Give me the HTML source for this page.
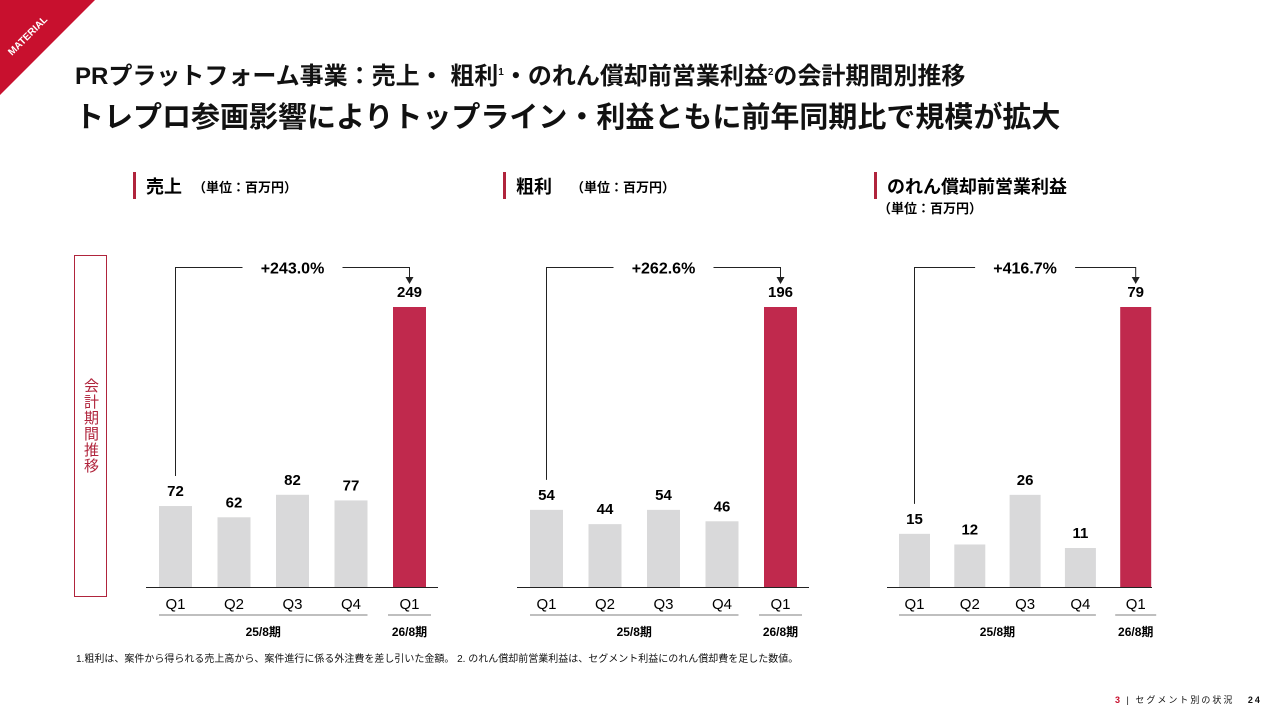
<!DOCTYPE html>
<html><head><meta charset="utf-8">
<style>
body{margin:0;width:1280px;height:720px;background:#fff;overflow:hidden;position:relative;font-family:"Liberation Sans","Noto Sans CJK JP",sans-serif;color:#111}
.abs{position:absolute;white-space:nowrap}
</style></head><body>
<svg class="abs" style="left:0;top:0" width="100" height="100">
<polygon points="0,0 95,0 0,95" fill="#c8102e"/>
<text x="12" y="56" transform="rotate(-45 12 56)" font-size="10" font-weight="bold" fill="#fff" font-family="Liberation Sans,sans-serif">MATERIAL</text>
</svg>
<div class="abs" style="left:75px;top:56px;font-size:24px;font-weight:bold">PRプラットフォーム事業：売上・ 粗利<sup style="font-size:10px">1</sup>・のれん償却前営業利益<sup style="font-size:10px">2</sup>の会計期間別推移</div>
<div class="abs" style="left:75px;top:94px;font-size:29px;font-weight:bold;letter-spacing:0">トレプロ参画影響によりトップライン・利益ともに前年同期比で規模が拡大</div>

<div class="abs" style="left:74px;top:255px;width:31px;height:340px;border:1px solid #b0243c;color:#b0243c;font-size:15px;writing-mode:vertical-rl;display:flex;align-items:center;justify-content:center;letter-spacing:1px">会計期間推移</div>

<svg id="chart" class="abs" style="left:0;top:0" width="1280" height="720"></svg>

<div class="abs" style="left:76px;top:650px;font-size:10px">1.粗利は、案件から得られる売上高から、案件進行に係る外注費を差し引いた金額。 2. のれん償却前営業利益は、セグメント利益にのれん償却費を足した数値。</div>
<div class="abs" style="left:1115px;top:693px;font-size:9px;letter-spacing:2px"><span style="color:#c8102e;font-weight:bold">3</span> | セグメント別の状況 &nbsp; <b>24</b></div>

<script>
const categories=["Q1","Q2","Q3","Q4","Q1"];
const salesValues=[72,62,82,77,249];
const grossValues=[54,44,54,46,196];
const opValues=[15,12,26,11,79];
const growthLabels=["+243.0%","+262.6%","+416.7%"];
const titles=["売上","粗利","のれん償却前営業利益"];
const periodLabels=["25/8期","26/8期"];

const NS="http://www.w3.org/2000/svg";
const svg=document.getElementById('chart');
function mk(tag,attrs,txt){const e=document.createElementNS(NS,tag);for(const k in attrs)e.setAttribute(k,attrs[k]);if(txt!==undefined)e.textContent=txt;svg.appendChild(e);return e;}

const panels=[
 {vals:salesValues,x0:159,step:58.5,bw:33,axL:146,axR:438,tx:133,name:'sales'},
 {vals:grossValues,x0:530,step:58.5,bw:33,axL:517,axR:809,tx:503,name:'gross-profit'},
 {vals:opValues,x0:899,step:55.3,bw:31,axL:887,axR:1152,tx:874,name:'operating-profit'}
];
const base=587, topY=307;
panels.forEach((p,pi)=>{
  const max=Math.max(...p.vals);
  const y=v=>base-(v/max)*(base-topY);
  const cx=i=>p.x0+i*p.step+p.bw/2;
  let r=mk('rect',{x:p.tx,y:172,width:3,height:27,fill:'#b0243c'});
  
  
  let t=mk('text',{x:p.tx+13,y:193,'font-size':18,'font-weight':'bold'},titles[pi]);
  
  
  let u;
  if(pi<2){u=mk('text',{x:p.tx+(pi==0?60:68),y:192,'font-size':13,'font-weight':'bold'},'（単位：百万円）');}
  else{u=mk('text',{x:p.tx+4,y:213,'font-size':13,'font-weight':'bold'},'（単位：百万円）');}
  
  
  p.vals.forEach((v,i)=>{
    const b=mk('rect',{x:p.x0+i*p.step,y:y(v),width:p.bw,height:base-y(v),fill:i==4?'#c0294d':'#d9d9da'});
    
    
    const l=mk('text',{x:cx(i),y:y(v)-10,'font-size':15,'font-weight':'bold','text-anchor':'middle'},v);
    
    
    const c=mk('text',{x:cx(i),y:609,'font-size':15,'text-anchor':'middle'},categories[i]);
    
    
  });
  const ax=mk('line',{x1:p.axL,x2:p.axR,y1:base+0.5,y2:base+0.5,stroke:'#222','stroke-width':1});
  
  
  const l1=mk('line',{x1:p.x0,x2:p.x0+3*p.step+p.bw,y1:615,y2:615,stroke:'#555','stroke-width':0.8});
  
  
  const l2=mk('line',{x1:p.x0+4*p.step-5,x2:p.x0+4*p.step+p.bw+5,y1:615,y2:615,stroke:'#555','stroke-width':0.8});
  
  
  const pl1=mk('text',{x:(cx(0)+cx(3))/2,y:636,'font-size':12,'font-weight':'bold','text-anchor':'middle'},periodLabels[0]);
  
  
  const pl2=mk('text',{x:cx(4),y:636,'font-size':12,'font-weight':'bold','text-anchor':'middle'},periodLabels[1]);
  
  
  const gx=(cx(0)+cx(4))/2, hy=267.5;
  const path=`M${cx(0)},${y(p.vals[0])-30} V${hy} H${gx-50} M${gx+50},${hy} H${cx(4)} V${y(p.vals[4])-26}`;
  const br=mk('path',{d:path,fill:'none',stroke:'#222','stroke-width':1});
  
  
  const ah=mk('polygon',{points:`${cx(4)-4},${y(p.vals[4])-30} ${cx(4)+4},${y(p.vals[4])-30} ${cx(4)},${y(p.vals[4])-23}`,fill:'#222'});
  
  
  const g=mk('text',{x:gx,y:hy+6,'font-size':16,'font-weight':'bold','text-anchor':'middle'},growthLabels[pi]);
  
  
});
</script>
</body></html>
